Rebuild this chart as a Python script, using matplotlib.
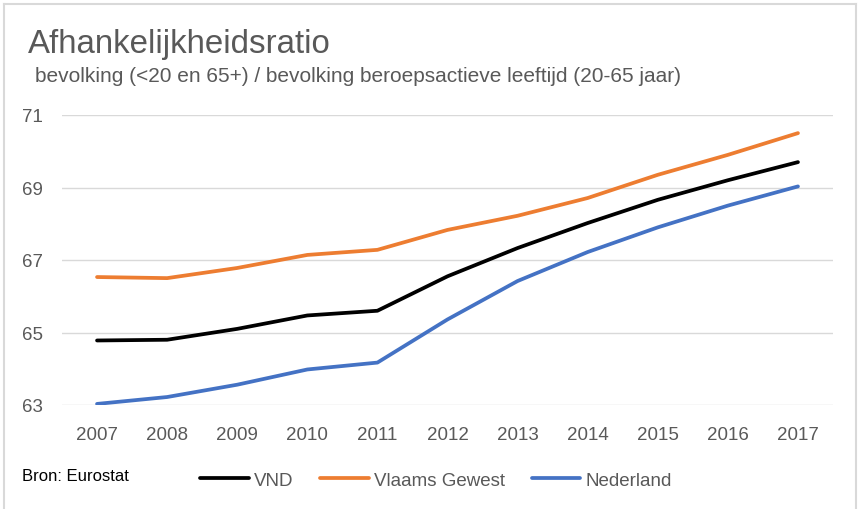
import numpy as np
import matplotlib
matplotlib.use("Agg")
import matplotlib.pyplot as plt
from matplotlib.lines import Line2D

plt.rcParams['font.family'] = ['Liberation Sans', 'DejaVu Sans']

years = [2007, 2008, 2009, 2010, 2011, 2012, 2013, 2014, 2015, 2016, 2017]
vnd = [64.78, 64.80, 65.10, 65.47, 65.60, 66.55, 67.33, 68.02, 68.66, 69.20, 69.70]
vlaams = [66.53, 66.50, 66.78, 67.14, 67.28, 67.83, 68.22, 68.71, 69.35, 69.90, 70.50]
nederland = [63.03, 63.22, 63.56, 63.98, 64.17, 65.36, 66.42, 67.22, 67.90, 68.50, 69.03]
yticks = [63, 65, 67, 69, 71]

grey = '#595959'

fig = plt.figure(figsize=(8.58, 5.10), dpi=100)
ax = fig.add_axes([62/858, 1-406/510, (833-62)/858, (406-116)/510])

ax.plot(years, vnd, color='black', linewidth=2.7, label='VND', solid_capstyle='round')
ax.plot(years, vlaams, color='#ED7D31', linewidth=2.7, label='Vlaams Gewest', solid_capstyle='round')
ax.plot(years, nederland, color='#4472C4', linewidth=2.7, label='Nederland', solid_capstyle='round')

ax.set_xlim(2006.5, 2017.5)
ax.set_ylim(63, 71)
ax.set_xticks(years)
ax.set_yticks(yticks)
ax.tick_params(axis='both', length=0, labelsize=13.5, labelcolor=grey)
ax.tick_params(axis='y', pad=14)
ax.tick_params(axis='x', pad=15)
ax.grid(axis='y', color='#d9d9d9', linewidth=1)
ax.set_axisbelow(True)
for s in ax.spines.values():
    s.set_visible(False)

fig.text(28/858, 1-45/510, 'Afhankelijkheidsratio', fontsize=23.8, color=grey, va='center')
fig.text(35/858, 1-76/510, 'bevolking (<20 en 65+) / bevolking beroepsactieve leeftijd (20-65 jaar)',
         fontsize=15, color=grey, va='center')
fig.text(22/858, 1-477/510, 'Bron: Eurostat', fontsize=12, color='black', va='center')

fig.legend(loc='center', bbox_to_anchor=(436/858, 1-481/510), ncol=3, frameon=False,
           fontsize=13.5, labelcolor=grey, handlelength=2.6, handletextpad=0.3,
           columnspacing=1.4)

# frame round the chart (left, top, right)
bc = '#d9d9d9'
fig.add_artist(Line2D([4/858, 4/858], [0, 1-5/510], transform=fig.transFigure, color=bc, lw=1.5))
fig.add_artist(Line2D([4/858, 856/858], [1-5/510, 1-5/510], transform=fig.transFigure, color=bc, lw=1.5))
fig.add_artist(Line2D([856/858, 856/858], [0, 1-5/510], transform=fig.transFigure, color=bc, lw=1.5))

fig.savefig('out.png', dpi=100)
